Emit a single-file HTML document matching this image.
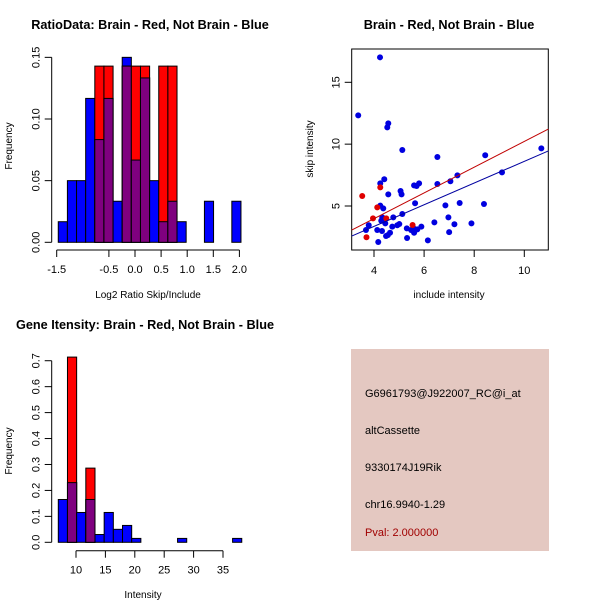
<!DOCTYPE html>
<html><head><meta charset="utf-8"><style>
body{margin:0;background:#fff;}
svg{display:block;font-family:"Liberation Sans",Arial,sans-serif;}
</style></head><body>
<svg id="root" width="600" height="600" viewBox="0 0 600 600">
<rect width="600" height="600" fill="#fff"/>
<text x="150" y="29" font-size="12.7" font-weight="bold" text-anchor="middle">RatioData: Brain - Red, Not Brain - Blue</text>
<text x="449" y="29" font-size="12.7" font-weight="bold" text-anchor="middle">Brain - Red, Not Brain - Blue</text>
<text x="145" y="329" font-size="12.7" font-weight="bold" text-anchor="middle">Gene Itensity: Brain - Red, Not Brain - Blue</text>
<g id="p1"></g>
<g id="p2"></g>
<g id="p3"></g>
<g>
<rect x="351" y="349" width="198" height="202" fill="#e4c8c1"/>
<text x="365" y="397" font-size="11">G6961793@J922007_RC@i_at</text>
<text x="365" y="434" font-size="11">altCassette</text>
<text x="365" y="471" font-size="11">9330174J19Rik</text>
<text x="365" y="508" font-size="11">chr16.9940-1.29</text>
<text x="365" y="536" font-size="11" fill="#a00000">Pval: 2.000000</text>
</g>
</svg>
<script>
// ---- Ratio histogram data ----
const ratioBinStart = -1.47;
const ratioBinWidth = 0.175;
const ratioBlue = [0.0167,0.05,0.05,0.1167,0.0833,0.1167,0.0333,0.15,0.0667,0.1333,0.05,0.0167,0.0333,0.0167,0,0,0.0333,0,0,0.0333];
const ratioRed  = [0,0,0,0,0.1429,0.1429,0,0.1429,0.1429,0.1429,0,0.1429,0.1429,0,0,0,0,0,0,0];
const ratioXTicks = [-1.5,-0.5,0.0,0.5,1.0,1.5,2.0];
const ratioXLabels = ["-1.5","-0.5","0.0","0.5","1.0","1.5","2.0"];
const ratioYTicks = [0,0.05,0.10,0.15];
const ratioYLabels = ["0.00","0.05","0.10","0.15"];
// ---- Scatter data ----
const blueX = [4.24,3.37,4.57,4.53,5.13,6.53,8.44,10.68,9.11,7.33,7.05,6.53,4.41,4.25,5.60,5.70,5.80,5.06,5.10,4.57,5.64,7.42,8.39,6.85,4.25,4.37,5.13,4.77,4.33,4.29,4.45,6.97,6.41,7.21,7.89,3.79,3.68,4.13,4.32,4.73,4.93,5.01,5.31,5.48,5.57,5.73,5.89,4.64,4.55,4.48,5.60,5.32,7.0,4.17,6.15];
const blueY = [17.02,12.33,11.68,11.36,9.53,8.96,9.10,9.66,7.72,7.48,7.0,6.78,7.16,6.83,6.67,6.62,6.83,6.21,5.94,5.94,5.22,5.24,5.16,5.05,5.03,4.81,4.35,4.08,4.08,3.81,3.60,4.08,3.68,3.52,3.60,3.44,3.06,3.06,2.98,3.33,3.44,3.54,3.19,3.06,3.22,3.11,3.33,2.84,2.65,2.57,2.84,2.41,2.89,2.09,2.22];
const redX = [3.53,4.13,4.25,3.96,3.70,4.49,5.54];
const redY = [5.81,4.89,6.51,4.0,2.47,4.0,3.46];
const redFit = [-0.18,1.04];
const blueFit = [-0.16,0.877];
const scXTicks = [4,6,8,10];
const scYTicks = [5,10,15];
// ---- Intensity histogram data ----
const intBinStart = 6.99;
const intBinWidth = 1.56;
const intBlue = [0.165,0.23,0.115,0.165,0.03,0.115,0.05,0.065,0.015,0,0,0,0,0.015,0,0,0,0,0,0.015];
const intRed  = [0,0.714,0,0.286,0,0,0,0,0,0,0,0,0,0,0,0,0,0,0,0];
const intXTicks = [10,15,20,25,30,35];
const intYTicks = [0,0.1,0.2,0.3,0.4,0.5,0.6,0.7];
const intYLabels = ["0.0","0.1","0.2","0.3","0.4","0.5","0.6","0.7"];

const NS="http://www.w3.org/2000/svg";
function mk(parent,tag,attrs){const e=document.createElementNS(NS,tag);for(const k in attrs)e.setAttribute(k,attrs[k]);parent.appendChild(e);return e;}
function txt(parent,x,y,s,rot,anchor){const t=mk(parent,'text',{x:x,y:y,'font-size':11,'text-anchor':anchor||'middle'});if(rot)t.setAttribute('transform','rotate(-90 '+x+' '+y+')');t.textContent=s;return t;}

function hist(g,o){
  const X=v=>o.x0+(v-o.xv0)*o.xs, Y=v=>o.y0-v*o.ys;
  for(let i=0;i<o.blue.length;i++){
    const a=o.start+i*o.w,b=a+o.w;
    const bv=o.blue[i],rv=o.red[i];
    if(bv>0){const r=mk(g,'rect',{x:X(a),y:Y(bv),width:X(b)-X(a),height:Y(0)-Y(bv),fill:'#0000ff',stroke:'#000','stroke-width':1});
      
      }
    if(rv>0){const r=mk(g,'rect',{x:X(a),y:Y(rv),width:X(b)-X(a),height:Y(0)-Y(rv),fill:'#ff0000',stroke:'#000','stroke-width':1});
      
      }
    const m=Math.min(bv,rv);
    if(m>0){const r=mk(g,'rect',{x:X(a),y:Y(m),width:X(b)-X(a),height:Y(0)-Y(m),fill:'#7f007f',stroke:'#000','stroke-width':1});
      
      }
  }
  const ya=o.yax;
  mk(g,'line',{x1:ya,y1:Y(o.yt[0]),x2:ya,y2:Y(o.yt[o.yt.length-1]),stroke:'#000'});
  o.yt.forEach((v,i)=>{mk(g,'line',{x1:ya-7,y1:Y(v),x2:ya,y2:Y(v),stroke:'#000'});
    const t=txt(g,ya-12,Y(v),o.yl[i],true);
    
    });
  const xa=o.xay;
  mk(g,'line',{x1:X(o.xt[0]),y1:xa,x2:X(o.xt[o.xt.length-1]),y2:xa,stroke:'#000'});
  o.xt.forEach((v,i)=>{mk(g,'line',{x1:X(v),y1:xa,x2:X(v),y2:xa+7,stroke:'#000'});
    const t=txt(g,X(v),xa+23,o.xl[i]);
    
    });
  const yt=txt(g,12,o.ylabY,'Frequency',true);yt.setAttribute('font-size',10);
  
  
  const xt=txt(g,o.xlabX,o.xlabY,o.xlab);xt.setAttribute('font-size',10);
  
  
}

hist(document.getElementById('p1'),{x0:56.7,xv0:-1.5,xs:52.2,y0:242.3,ys:1233,start:ratioBinStart,w:ratioBinWidth,blue:ratioBlue,red:ratioRed,
  yax:51.7,yt:ratioYTicks,yl:ratioYLabels,xay:250,xt:ratioXTicks,xl:ratioXLabels,ylabY:146,xlabX:148,xlabY:298,xlab:'Log2 Ratio Skip/Include'});
hist(document.getElementById('p3'),{x0:76,xv0:10,xs:5.88,y0:542.3,ys:259.4,start:intBinStart,w:intBinWidth,blue:intBlue,red:intRed,
  yax:51.7,yt:intYTicks,yl:intYLabels,xay:550.7,xt:intXTicks,xl:intXTicks.map(String),ylabY:451,xlabX:143,xlabY:598,xlab:'Intensity'});

(function(){
  const g=document.getElementById('p2');
  const X=v=>374+(v-4)*25.05, Y=v=>206-(v-5)*12.37;
  const L=351.7,R=548.3,T=49,B=250;
  mk(g,'rect',{x:L,y:T,width:R-L,height:B-T,fill:'none',stroke:'#000'});
  blueX.forEach((x,i)=>{const c=mk(g,'circle',{cx:X(x),cy:Y(blueY[i]),r:3,fill:'#0000e0'});
    
    });
  redX.forEach((x,i)=>{const c=mk(g,'circle',{cx:X(x),cy:Y(redY[i]),r:3,fill:'#e00000'});
    
    });
  const xa=3.11,xb=10.96;
  const rl=mk(g,'line',{x1:X(xa),y1:Y(redFit[0]+redFit[1]*xa),x2:X(xb),y2:Y(redFit[0]+redFit[1]*xb),stroke:'#c00000'});
  
  
  const bl=mk(g,'line',{x1:X(xa),y1:Y(blueFit[0]+blueFit[1]*xa),x2:X(xb),y2:Y(blueFit[0]+blueFit[1]*xb),stroke:'#0000a0'});
  
  
  scXTicks.forEach(v=>{mk(g,'line',{x1:X(v),y1:B,x2:X(v),y2:B+7,stroke:'#000'});
    const t=txt(g,X(v),B+24,String(v));
    
    });
  scYTicks.forEach(v=>{mk(g,'line',{x1:L-7,y1:Y(v),x2:L,y2:Y(v),stroke:'#000'});
    const t=txt(g,L-12,Y(v),String(v),true);
    
    });
  const a=txt(g,449,298,'include intensity');a.setAttribute('font-size',10);
  
  
  const b=txt(g,313,149,'skip intensity',true);b.setAttribute('font-size',10);
  
  
})();
</script>
</body></html>
